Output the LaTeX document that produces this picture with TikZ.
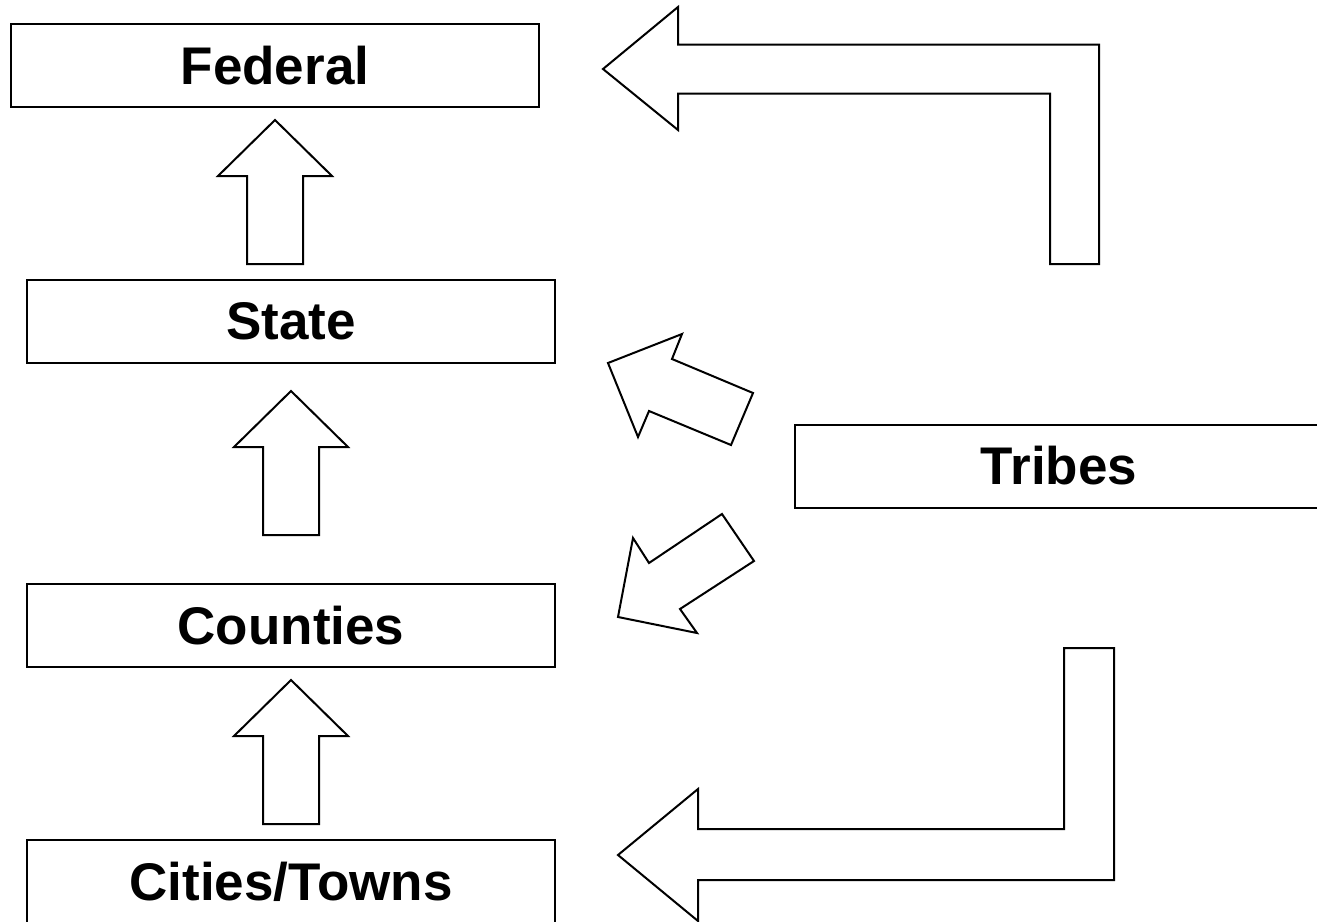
\documentclass[tikz,border=0pt]{standalone}
\usepackage{fontspec}
\setmainfont{Liberation Sans}
\usetikzlibrary{positioning}

\begin{document}
\begin{tikzpicture}[x=1pt,y=-1pt,line width=2pt,
                    level node/.style={rectangle,draw,inner sep=0pt,minimum width=528pt,
                      minimum height=83pt,font=\bfseries\fontsize{53}{60}\selectfont},
                    block arrow/.style={draw,fill=white,line join=miter}]

  \clip (0,0) rectangle (1317,921);

  \node[level node] (federal)  at (275,65.5)  {Federal};
  \node[level node] (state)    at (291,321.5) {State};
  \node[level node] (counties) at (291,625.5) {Counties};
  \node[level node] (cities)   at (291,881.5) {Cities/Towns};
  \node[level node] (tribes)   at (1059,466)  {Tribes};

  % upward arrows between the levels
  \foreach \x/\y in {275/120, 291/391, 291/680}
    \draw[block arrow] (\x,\y) -- ++(57,56) -- ++(-29,0) -- ++(0,88) -- ++(-56,0)
      -- ++(0,-88) -- ++(-29,0) -- cycle;

  % tribes to federal
  \draw[block arrow] (603,69) -- (678,7) -- (678,44.5) -- (1099,44.5) -- (1099,264)
    -- (1050,264) -- (1050,93.5) -- (678,93.5) -- (678,130) -- cycle;
  % tribes to state
  \draw[block arrow] (608,363) -- (682,334) -- (672,359) -- (753,393) -- (731,445)
    -- (649,411) -- (638,437) -- cycle;
  % tribes to counties
  \draw[block arrow] (618,617) -- (697,633) -- (680,609) -- (754,561) -- (722,514)
    -- (649,563) -- (633,538) -- cycle;
  % tribes to cities/towns
  \draw[block arrow] (618,855) -- (698,789) -- (698,829) -- (1064,829) -- (1064,648)
    -- (1114,648) -- (1114,880) -- (698,880) -- (698,921) -- cycle;

\end{tikzpicture}
\end{document}
